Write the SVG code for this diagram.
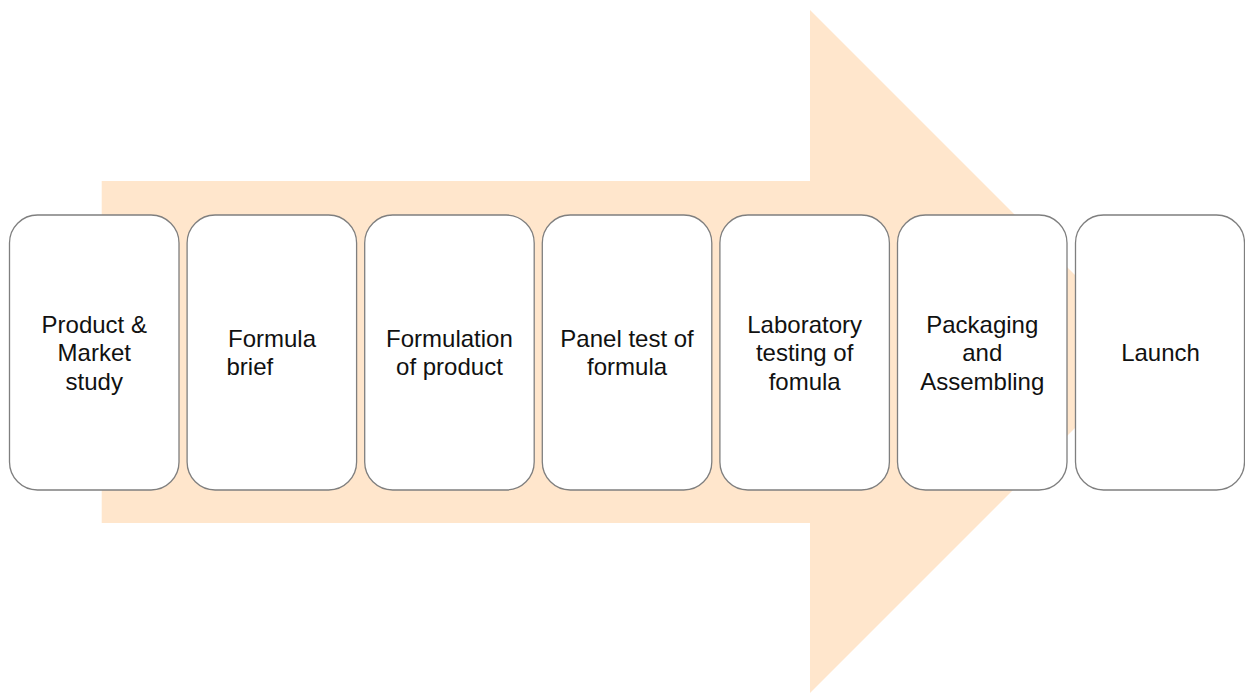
<svg xmlns="http://www.w3.org/2000/svg" width="1245" height="693" viewBox="0 0 1245 693">
  <style>
    .step rect { fill: #ffffff; stroke: #7f7f7f; stroke-width: 1.3; }
    .step text { font-family: "Liberation Sans", Arial, sans-serif; font-size: 24px; fill: #111111; text-anchor: middle; }
    .step text.left { text-anchor: start; }
  </style>
  <rect width="1245" height="693" fill="#ffffff"/>

  <!-- Large background arrow -->
  <g id="flow-arrow">
    <polygon points="101.7,181 810,181 810,10 1151.5,351.5 810,693 810,523 101.7,523" fill="#ffe6cc"/>
  </g>

  <!-- Process steps -->
  <g id="step-1" class="step">
    <rect x="9.5" y="215" width="169.5" height="275" rx="28" ry="28"/>
    <text x="94.25" y="332.5">Product &amp;</text>
    <text x="94.25" y="361">Market</text>
    <text x="94.25" y="389.5">study</text>
  </g>
  <g id="step-2" class="step">
    <rect x="187.1" y="215" width="169.5" height="275" rx="28" ry="28"/>
    <text class="left" x="228" y="346.75">Formula</text>
    <text class="left" x="226.5" y="375.25">brief</text>
  </g>
  <g id="step-3" class="step">
    <rect x="364.7" y="215" width="169.5" height="275" rx="28" ry="28"/>
    <text x="449.45" y="346.75">Formulation</text>
    <text x="449.45" y="375.25">of product</text>
  </g>
  <g id="step-4" class="step">
    <rect x="542.3" y="215" width="169.5" height="275" rx="28" ry="28"/>
    <text x="627.05" y="346.75">Panel test of</text>
    <text x="627.05" y="375.25">formula</text>
  </g>
  <g id="step-5" class="step">
    <rect x="719.9" y="215" width="169.5" height="275" rx="28" ry="28"/>
    <text x="804.65" y="332.5">Laboratory</text>
    <text x="804.65" y="361">testing of</text>
    <text x="804.65" y="389.5">fomula</text>
  </g>
  <g id="step-6" class="step">
    <rect x="897.5" y="215" width="169.5" height="275" rx="28" ry="28"/>
    <text x="982.25" y="332.5">Packaging</text>
    <text x="982.25" y="361">and</text>
    <text x="982.25" y="389.5">Assembling</text>
  </g>
  <g id="step-7" class="step">
    <rect x="1075.5" y="215" width="169" height="275" rx="28" ry="28"/>
    <text x="1160.5" y="361">Launch</text>
  </g>

  <!-- No connectors: the steps sit on the arrow -->
  <g id="connectors"/>
</svg>
